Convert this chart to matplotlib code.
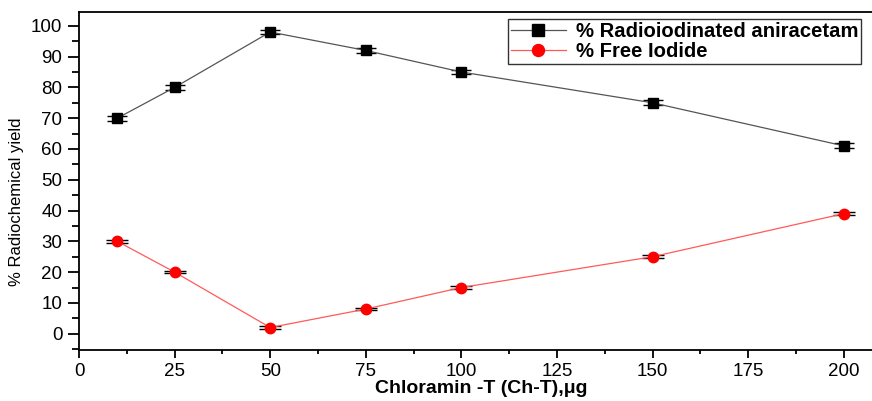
import matplotlib
matplotlib.use("Agg")
import matplotlib.pyplot as plt
from matplotlib.ticker import MultipleLocator

plt.rcParams['font.family'] = ['Liberation Sans', 'DejaVu Sans']

chloramine = [10, 25, 50, 75, 100, 150, 200]
radio_yield = [70, 80, 98, 92, 85, 75, 61]
radio_err = [0.8, 0.8, 0.8, 0.8, 0.8, 0.8, 0.8]
free_iodide = [30, 20, 2, 8, 15, 25, 39]
free_err = [0.4, 0.4, 0.4, 0.4, 0.4, 0.4, 0.4]

fig = plt.figure(figsize=(8.72, 4.01), dpi=100)
ax = fig.add_axes([79/872, 51/401, 805/872, 338/401])

c1 = ax.errorbar(chloramine, radio_yield, yerr=radio_err, color='#555555', lw=0.9,
                 marker='s', ms=7.5, mfc='black', mec='black', ecolor='black',
                 elinewidth=1.0, capsize=7, capthick=1.0,
                 label='% Radioiodinated aniracetam')
c2 = ax.errorbar(chloramine, free_iodide, yerr=free_err, color='#ff5a5a', lw=0.9,
                 marker='o', ms=7.5, mfc='red', mec='red', ecolor='black',
                 elinewidth=1.0, capsize=8, capthick=1.0,
                 label='% Free Iodide')

ax.set_xlim(0, 210.5)
ax.set_ylim(-5.3, 104.5)
ax.xaxis.set_major_locator(MultipleLocator(25))
ax.xaxis.set_minor_locator(MultipleLocator(12.5))
ax.yaxis.set_major_locator(MultipleLocator(10))
ax.yaxis.set_minor_locator(MultipleLocator(5))
ax.set_yticks(range(0, 101, 10))
ax.tick_params(axis='y', which='major', direction='out', length=8, width=1.3, labelsize=13.5, pad=4)
ax.tick_params(axis='y', which='minor', direction='out', length=5, width=1.3)
ax.tick_params(axis='x', which='major', direction='out', length=5.5, width=1.3, labelsize=13.5, pad=4)
ax.tick_params(axis='x', which='minor', direction='out', length=3, width=1.3)
for s in ax.spines.values():
    s.set_linewidth(1.3)
ax.spines['right'].set_visible(False)

ax.set_xlabel('Chloramin -T (Ch-T),μg', fontsize=14, fontweight='bold', labelpad=0)
ax.set_ylabel('% Radiochemical yield', fontsize=12)
ax.yaxis.set_label_coords(-0.068, 0.44)

leg = ax.legend([c1[0], c2[0]], ['% Radioiodinated aniracetam', '% Free Iodide'],
                loc='upper left', prop={'weight': 'bold', 'size': 14.6}, frameon=True, fancybox=False,
                edgecolor='black', borderpad=0.15, labelspacing=0.05, handlelength=2.7,
                handletextpad=0.5, borderaxespad=0, markerscale=1.15)
leg.get_frame().set_linewidth(1.0)
leg.set_bbox_to_anchor((508/872, 1 - 19/401), transform=fig.transFigure)

fig.savefig('out.png', dpi=100)
